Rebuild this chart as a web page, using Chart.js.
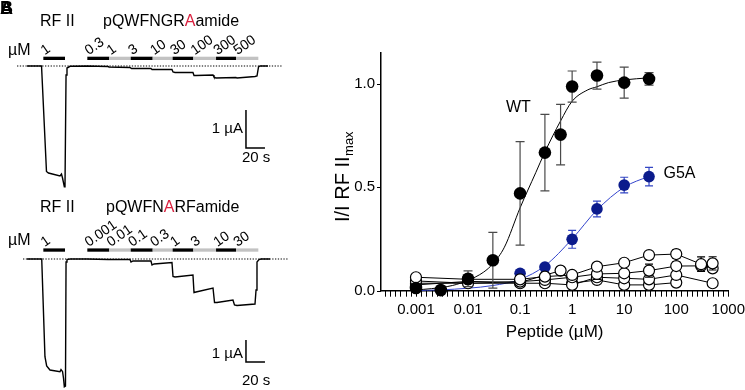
<!DOCTYPE html>
<html><head><meta charset="utf-8">
<script src="https://cdn.jsdelivr.net/npm/chart.js@4/dist/chart.umd.min.js"></script>
<style>
html,body{margin:0;padding:0;background:#fff;overflow:hidden;width:745px;height:390px;}
#traces{position:absolute;left:0;top:0;}
#dose{position:absolute;left:330px;top:0;}
</style></head><body>
<canvas id="traces" width="330" height="390"></canvas>
<canvas id="dose" width="470" height="390"></canvas>
<script>
// ===================== DATA =====================
// Panel A: RF II then pQWFNGRAamide (time s, current µA)
const traceTopT = [0, 15.3, 20.5, 22.6, 34.7, 36.3, 37.4, 39.3, 40.0, 41.1, 42.1, 45.3, 63.2, 85.3, 86.3, 108.4, 110.0, 130.5, 131.6, 152.6, 153.7, 155.8, 174.7, 175.8, 177.9, 195.8, 196.8, 198.9, 220.0, 221.1, 240.0, 242.1, 243.7, 245.3, 253.7];
const traceTopI = [0, 0, -2.776, -2.816, -2.895, -2.842, -2.947, -3.176, -3.158, -0.237, -0.053, -0.008, 0, -0.013, -0.026, -0.039, -0.066, -0.066, -0.092, -0.092, -0.158, -0.171, -0.171, -0.25, -0.25, -0.237, -0.289, -0.316, -0.303, -0.316, -0.276, -0.263, -0.026, 0, 0];
// Panel B: RF II then pQWFNARFamide
const traceBotT = [0, 15.5, 18.9, 20.7, 24.2, 34.7, 35.8, 37.4, 38.4, 39.3, 40.5, 41.1, 42.1, 45.3, 63.2, 85.3, 108.4, 109.5, 111.6, 130.5, 131.6, 133.7, 152.6, 153.7, 155.8, 174.7, 175.8, 177.9, 195.8, 197.4, 200.0, 216.8, 218.4, 221.1, 240.0, 241.1, 242.1, 244.2, 246.3, 255.8];
const traceBotI = [0, 0, -4.441, -4.864, -5.045, -5.123, -5.023, -5.114, -5.409, -5.805, -5.773, -0.136, -0.023, 0, 0, -0.023, -0.023, -0.136, -0.091, -0.091, -0.273, -0.227, -0.159, -0.795, -0.818, -0.727, -1.523, -1.5, -1.318, -1.977, -1.977, -1.864, -2.091, -2.114, -2.045, -1.409, -0.136, -0.023, 0, 0];
const rfiiApp = [17.2, 40.0];           // RF II application window (s)
const rfiiConc = '1';
const appStarts = [63.5, 86.6, 109.2, 132.3, 153.3, 175.1, 199.0, 220.0]; // peptide applications (s)
const appEnd = 243.5;
const topConcLabels = ['0.3', '1', '3', '10', '30', '100', '300', '500'];
const botConcLabels = ['0.001', '0.01', '0.1', '0.3', '1', '3', '10', '30'];
const scaleBarI = 1;   // µA
const scaleBarT = 20;  // s

// Dose-response (concentration µM, normalized response)
const wtConc = [0.001, 0.003, 0.01, 0.03, 0.1, 0.3, 0.6, 1, 3, 10, 30];
const wtResp = [0.013, 0.003, 0.058, 0.147, 0.47, 0.667, 0.754, 0.986, 1.039, 1.005, 1.023];
const wtErr  = [0.005, 0.003, 0.038, 0.135, 0.25, 0.185, 0.146, 0.075, 0.065, 0.075, 0.03];
const wtFitConc = [0.001, 0.002, 0.005, 0.01, 0.02, 0.03, 0.05, 0.1, 0.2, 0.3, 0.6, 1, 2, 3, 5, 10, 30];
const wtFitResp = [0.004, 0.01, 0.025, 0.05, 0.09, 0.13, 0.21, 0.40, 0.57, 0.67, 0.82, 0.915, 0.97, 0.985, 1.005, 1.018, 1.028];

const g5aConc = [0.001, 0.01, 0.1, 0.3, 1, 3, 10, 30];
const g5aResp = [0.048, 0.05, 0.084, 0.114, 0.248, 0.395, 0.51, 0.551];
const g5aErr  = [0.01, 0.01, 0.01, 0.012, 0.043, 0.038, 0.038, 0.045];
const g5aFitConc = [0.001, 0.003, 0.01, 0.03, 0.1, 0.3, 1, 3, 10, 30];
const g5aFitResp = [0.001, 0.004, 0.012, 0.025, 0.055, 0.12, 0.25, 0.39, 0.50, 0.553];

// Inactive peptides (open circles)
const s1Conc = [0.001, 0.01, 0.1, 0.3, 1, 3, 10, 30, 100, 300, 500];
const s1Resp = [0.065, 0.055, 0.055, 0.068, 0.076, 0.116, 0.135, 0.172, 0.177, 0.128, 0.132];
const s1Err  = [0, 0, 0, 0, 0, 0, 0, 0, 0.02, 0.035, 0.032];
const s2Conc = [0.001, 0.01, 0.1, 0.3, 1, 3, 10, 30, 100, 300, 500];
const s2Resp = [0.047, 0.036, 0.044, 0.052, 0.065, 0.081, 0.084, 0.097, 0.119, 0.120, 0.108];
const s2Err  = [0, 0, 0, 0, 0, 0.026, 0, 0.031, 0.02, 0, 0];
const s3Conc = [0.001, 0.1, 0.3, 1, 3, 10, 30, 100, 500];
const s3Resp = [0.036, 0.036, 0.036, 0.028, 0.065, 0.060, 0.055, 0.076, 0.036];
const s4Conc = [0.001, 0.01, 0.1, 0.6, 1, 3, 10, 30, 100];
const s4Resp = [0.028, 0.045, 0.040, 0.097, 0.036, 0.052, 0.028, 0.028, 0.039];

const xMajorTicks = [0.001, 0.01, 0.1, 1, 10, 100, 1000];
const xMajorLabels = ['0.001', '0.01', '0.1', '1', '10', '100', '1000'];
const yTicks = [0, 0.5, 1.0];

// ===================== HELPERS =====================
const FAM = '"Liberation Sans", Arial, Helvetica, sans-serif';
const RED = '#d9203e';
Chart.defaults.font.family = FAM;
Chart.defaults.color = '#000';
const pts = (xs, ys) => xs.map((x, i) => ({ x: x, y: ys[i] }));

// ===================== TRACES CHART =====================
const panels = [
  { y: 'yA', conc: topConcLabels, title: [['pQWFNGR', '#000'], ['A', RED], ['amide', '#000']],
    titleX: 103, titleY: 26, umY: 54.5, barY: 58.3, dot: [-10.5, 268.4], sbI: -1.158,
    sbTxt1: 133, sbTxt2: 161.5 },
  { y: 'yB', conc: botConcLabels, title: [['pQWFN', '#000'], ['A', RED], ['RFamide', '#000']],
    titleX: 106, titleY: 211.5, umY: 244.5, barY: 250, dot: [-4.2, 274.7], sbI: -3.682,
    sbTxt1: 358, sbTxt2: 385 }
];
const sbT0 = 230.5;

const traceDeco = {
  id: 'traceDeco',
  afterDraw(chart) {
    const ctx = chart.ctx, xs = chart.scales.x;
    ctx.save();
    // panel letters
    ctx.fillStyle = '#000';
    ctx.font = 'bold 18px ' + FAM;
    ctx.textBaseline = 'alphabetic';
    ctx.fillText('B', 0, 14);
    ctx.fillText('A', 0, 14);
    panels.forEach(p => {
      const ys = chart.scales[p.y];
      const y0 = ys.getPixelForValue(0);
      // dotted baseline
      ctx.strokeStyle = '#000'; ctx.lineWidth = 1.2; ctx.setLineDash([1.3, 1.5]);
      ctx.beginPath(); ctx.moveTo(xs.getPixelForValue(p.dot[0]), y0); ctx.lineTo(xs.getPixelForValue(p.dot[1]), y0); ctx.stroke();
      ctx.setLineDash([]);
      // titles
      ctx.font = '16px ' + FAM; ctx.textAlign = 'left'; ctx.fillStyle = '#000';
      ctx.fillText('RF II', 40, p.titleY);
      let tx = p.titleX;
      p.title.forEach(([s, c]) => { ctx.fillStyle = c; ctx.fillText(s, tx, p.titleY); tx += ctx.measureText(s).width; });
      ctx.fillStyle = '#000';
      ctx.fillText('\u00b5M', 8, p.umY);
      // application bars
      const bars = [[rfiiApp[0], rfiiApp[1], '#000', rfiiConc]];
      appStarts.forEach((s, i) => bars.push([s, i < appStarts.length - 1 ? appStarts[i + 1] : appEnd, i % 2 ? '#c2c2c2' : '#000', p.conc[i]]));
      bars.forEach(([a, b, col, lab]) => {
        const xa = xs.getPixelForValue(a), xb = xs.getPixelForValue(b);
        ctx.fillStyle = col; ctx.fillRect(xa, p.barY - 1.6, xb - xa, 3.3);
        ctx.save(); ctx.fillStyle = '#000'; ctx.font = '14px ' + FAM;
        ctx.translate(xa + 1.5, p.barY - 3); ctx.rotate(-35 * Math.PI / 180);
        ctx.fillText(lab, 0, 0); ctx.restore();
      });
      // scale bars
      const xb0 = xs.getPixelForValue(sbT0), xb1 = xs.getPixelForValue(sbT0 + scaleBarT);
      const yb0 = ys.getPixelForValue(p.sbI), yb1 = ys.getPixelForValue(p.sbI - scaleBarI);
      ctx.strokeStyle = '#000'; ctx.lineWidth = 1.5;
      ctx.beginPath(); ctx.moveTo(xb0, yb0); ctx.lineTo(xb0, yb1); ctx.lineTo(xb1, yb1); ctx.stroke();
      ctx.font = '15px ' + FAM; ctx.fillStyle = '#000';
      ctx.textAlign = 'right'; ctx.fillText(scaleBarI + ' \u00b5A', xb0 - 3, p.sbTxt1);
      ctx.textAlign = 'left'; ctx.fillText(scaleBarT + ' s', xb0 - 4, p.sbTxt2);
    });
    ctx.restore();
  }
};

new Chart(document.getElementById('traces'), {
  type: 'scatter',
  data: { datasets: [
    { data: pts(traceTopT, traceTopI), yAxisID: 'yA', showLine: true, borderColor: '#000', borderWidth: 1.4, pointRadius: 0, tension: 0, clip: false },
    { data: pts(traceBotT, traceBotI), yAxisID: 'yB', showLine: true, borderColor: '#000', borderWidth: 1.4, pointRadius: 0, tension: 0, clip: false }
  ] },
  options: {
    responsive: false, animation: false, devicePixelRatio: 1, events: [],
    layout: { padding: 0 },
    plugins: { legend: { display: false }, tooltip: { enabled: false } },
    scales: {
      x: { type: 'linear', display: false, min: -28.42, max: 318.95 },
      yA: { type: 'linear', display: false, min: -8.526, max: 1.737 },
      yB: { type: 'linear', display: false, min: -5.955, max: 11.773 }
    }
  },
  plugins: [traceDeco]
});

// ===================== DOSE-RESPONSE CHART =====================
const OX = 330;
const errorBars = {
  id: 'errorBars',
  beforeDatasetDraw(chart, args) {
    const ds = chart.data.datasets[args.index];
    if (!ds.errors) return;
    const ctx = chart.ctx, ys = chart.scales.y;
    ctx.save();
    ctx.strokeStyle = ds.errColor || '#000'; ctx.lineWidth = 1.2;
    args.meta.data.forEach((el, i) => {
      const e = ds.errors[i]; if (!e) return;
      const v = ds.data[i].y;
      const yt = ys.getPixelForValue(v + e), yb = ys.getPixelForValue(v - e);
      const w = ds.capW || 4;
      ctx.beginPath();
      ctx.moveTo(el.x, yt); ctx.lineTo(el.x, yb);
      ctx.moveTo(el.x - w, yt); ctx.lineTo(el.x + w, yt);
      ctx.moveTo(el.x - w, yb); ctx.lineTo(el.x + w, yb);
      ctx.stroke();
    });
    ctx.restore();
  }
};
const doseDeco = {
  id: 'doseDeco',
  afterDraw(chart) {
    const ctx = chart.ctx, ca = chart.chartArea;
    ctx.save(); ctx.fillStyle = '#000';
    // axis tick marks from the scales' own ticks
    ctx.strokeStyle = '#000'; ctx.lineWidth = 1;
    const xs = chart.scales.x, ys = chart.scales.y;
    ctx.beginPath();
    xs.ticks.forEach(t => {
      const px = Math.round(xs.getPixelForValue(t.value)) + 0.5;
      ctx.moveTo(px, ca.bottom); ctx.lineTo(px, ca.bottom + 6);
    });
    ys.ticks.forEach(t => {
      const py = Math.round(ys.getPixelForValue(t.value)) + 0.5;
      ctx.moveTo(ca.left - 4, py); ctx.lineTo(ca.left, py);
    });
    ctx.stroke();
    ctx.font = '17px ' + FAM; ctx.textAlign = 'center'; ctx.textBaseline = 'alphabetic';
    ctx.fillText('Peptide (\u00b5M)', (ca.left + ca.right) / 2, 337);
    ctx.textAlign = 'left'; ctx.font = '16px ' + FAM;
    ctx.fillText('WT', 506 - OX, 111.7);
    ctx.fillText('G5A', 663.5 - OX, 177.7);
    // y title with subscript
    ctx.save();
    ctx.translate(348.5 - OX, 222); ctx.rotate(-Math.PI / 2);
    ctx.font = '20px ' + FAM;
    const main = 'I/I RF II';
    ctx.fillText(main, 0, 0);
    const w = ctx.measureText(main).width;
    ctx.font = '13px ' + FAM;
    ctx.fillText('max', w + 0.5, 4);
    ctx.restore();
    ctx.restore();
  }
};

const minorTicks = [];
for (let n = -4; n <= 3; n++) for (let k = 0; k < 10; k++) {
  const v = Math.pow(10, n + k / 10);
  if (v >= 0.000213 && v <= 1000.001) minorTicks.push(v);
}
const openStyle = { showLine: true, borderColor: '#000', borderWidth: 1, pointRadius: 5.5, pointBorderWidth: 1.2,
  pointBackgroundColor: '#fff', pointBorderColor: '#000', clip: false, errColor: '#000', capW: 4 };

new Chart(document.getElementById('dose'), {
  type: 'scatter',
  data: { datasets: [
    { data: pts(wtConc, wtResp), errors: wtErr, errColor: '#4a4a4a', capW: 4.5, showLine: false, pointRadius: 6.3,
      pointBackgroundColor: '#000', pointBorderColor: '#000', pointBorderWidth: 0, clip: false },
    Object.assign({ data: pts(s1Conc, s1Resp), errors: s1Err }, openStyle),
    Object.assign({ data: pts(s2Conc, s2Resp), errors: s2Err }, openStyle),
    Object.assign({ data: pts(s3Conc, s3Resp) }, openStyle),
    Object.assign({ data: pts(s4Conc, s4Resp) }, openStyle),
    { data: pts(g5aConc, g5aResp), errors: g5aErr, errColor: '#3346c4', capW: 4, showLine: false, pointRadius: 5.8,
      pointBackgroundColor: '#0b1b8c', pointBorderColor: '#0b1b8c', pointBorderWidth: 0, clip: false },
    { data: pts(wtFitConc, wtFitResp), showLine: true, borderColor: '#000', borderWidth: 1, pointRadius: 0,
      cubicInterpolationMode: 'monotone', clip: false },
    { data: pts(g5aFitConc, g5aFitResp), showLine: true, borderColor: '#3344cc', borderWidth: 1, pointRadius: 0,
      cubicInterpolationMode: 'monotone', clip: false }
  ] },
  options: {
    responsive: false, animation: false, devicePixelRatio: 1, events: [],
    layout: { padding: { left: 6, right: 71.7, top: 53, bottom: 49.3 } },
    plugins: { legend: { display: false }, tooltip: { enabled: false } },
    scales: {
      x: {
        type: 'logarithmic', min: 0.000213, max: 1000,
        afterBuildTicks: s => { s.ticks = minorTicks.map(v => ({ value: v })); },
        afterFit: s => { s.height = 50; },
        ticks: { autoSkip: false, maxRotation: 0, minRotation: 0, padding: 4, color: '#000', font: { size: 15, family: FAM },
          callback: v => { const i = xMajorTicks.findIndex(m => Math.abs(Math.log10(m) - Math.log10(v)) < 1e-6); return i >= 0 ? xMajorLabels[i] : ''; } },
        grid: { drawOnChartArea: false, drawTicks: true, tickLength: 6, color: 'rgba(0,0,0,0)', lineWidth: 1 },
        border: { display: true, color: '#000', width: 1.5 }
      },
      y: {
        type: 'linear', min: 0, max: 1.148,
        afterBuildTicks: s => { s.ticks = yTicks.map(v => ({ value: v })); },
        afterFit: s => { s.width = 45; },
        ticks: { padding: 2, color: '#000', font: { size: 15, family: FAM }, callback: v => v.toFixed(1) },
        grid: { drawOnChartArea: false, drawTicks: true, tickLength: 4, color: 'rgba(0,0,0,0)', lineWidth: 1.3 },
        border: { display: true, color: '#000', width: 1.5 }
      }
    }
  },
  plugins: [errorBars, doseDeco]
});
</script>
</body></html>
